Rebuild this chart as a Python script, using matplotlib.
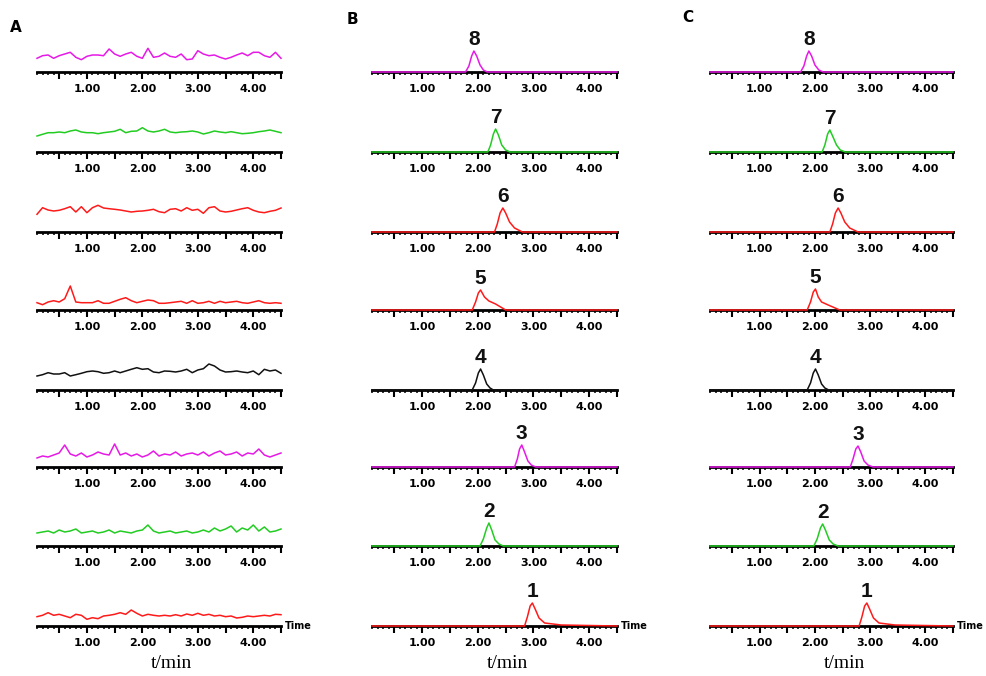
import matplotlib
matplotlib.use("Agg")
import matplotlib.pyplot as plt
from matplotlib.ticker import MultipleLocator, FuncFormatter

# colours of the 8 traces, top to bottom
trace_colors = ['#e619e6', '#22cc22', '#ff1a1a', '#ff1a1a',
                '#111111', '#e619e6', '#22cc22', '#ff1a1a']
compound_ids = [8, 7, 6, 5, 4, 3, 2, 1]

# panel A: blank matrix, signal height above baseline (read every 0.1 min, 0.1 to 4.5)
a_times = [round(0.1 * k, 1) for k in range(1, 46)]
a_noise = [
    [13.7, 16.3, 17, 13.7, 16.3, 18, 19.7, 14.7, 12.3, 15.7, 17, 17, 16.3, 23, 18,
     15.7, 18, 19.7, 15.7, 13.7, 23.7, 14.7, 15.7, 19, 15.7, 14.7, 18, 12.3, 13, 21.3,
     18, 16.3, 17, 14.7, 13, 14.7, 17, 19, 16.3, 19.7, 19.7, 16.3, 14.7, 19.7, 13.7],
    [16, 17.7, 19.3, 19.3, 20, 19.3, 21, 22, 20, 19.3, 19.3, 18.3, 19.3, 20, 20.7,
     22.7, 19.3, 20.7, 21, 24.3, 21, 20, 21, 22.7, 20, 19.3, 20, 20.3, 21, 20,
     18, 19.3, 21, 20, 19.3, 20.3, 19.3, 18.3, 18.7, 19.3, 20.3, 21, 22, 20.7, 19.3],
    [17.7, 24.3, 22, 21, 21.7, 23.3, 25.3, 20, 25.3, 19.3, 24.3, 26.7, 24, 23.3, 22.7,
     22, 21, 20, 20.7, 21, 21.7, 22.7, 20.3, 19.3, 22.7, 23.3, 21, 24.3, 21.7, 22.7,
     18.7, 24.3, 25.3, 21, 20, 20.7, 22, 23.3, 24.3, 21.7, 20, 19.3, 20.7, 21.7, 24],
    [7.3, 5.3, 8, 9.3, 8, 11.3, 24, 8, 7.3, 7.3, 7.3, 9.3, 6.7, 6.7, 8.7,
     10.7, 12.3, 9.3, 7.3, 8.7, 10, 9.3, 6.7, 6.7, 7.3, 8, 8.7, 6.7, 9.3, 6.7,
     7.3, 8.7, 6.7, 8.7, 7.3, 8, 8.7, 7.3, 6.7, 8, 9.3, 7.3, 6.7, 7.3, 6.7],
    [14, 15.3, 17.3, 16, 16, 17.3, 14, 15.3, 16.7, 18.3, 19, 18.3, 16.7, 17.3, 19,
     17.3, 19, 20.7, 22.3, 20.7, 21.3, 18, 17.3, 19, 18.7, 18, 19, 20.7, 17.3, 20,
     21.3, 26, 24, 20, 18, 18.3, 19, 18, 17.3, 19, 15.3, 20.7, 19, 20, 16.7],
    [9, 11, 10, 12, 14, 22, 13, 11, 14, 10, 12, 15, 13, 12, 23, 12, 14, 11, 13, 10,
     12, 16, 11, 13, 12, 15, 11, 13, 14, 12, 15, 11, 14, 16, 12, 13, 15, 11, 14, 13,
     18, 12, 10, 12, 14],
    [13, 14, 15, 13, 16, 14, 15, 17, 13, 14, 15, 13, 14, 16, 13, 15, 14, 13, 15, 16,
     21, 15, 13, 14, 15, 13, 14, 15, 13, 14, 16, 14, 18, 15, 17, 20, 14, 18, 16, 21,
     15, 19, 14, 15, 17],
    [9.3, 10.7, 13.3, 10.7, 11.7, 10, 8.3, 11.7, 10.7, 6.7, 8.3, 7.3, 10, 10.7, 11.7,
     13.3, 11.7, 16, 12.7, 10, 11.7, 10.7, 10, 10.7, 10, 11.3, 10, 12, 10.7, 12.7,
     10.7, 11.7, 10, 10.7, 9.3, 10, 8, 8.7, 10, 9.3, 10, 10.7, 10, 11.7, 11.3],
]

# panels B and C: spiked samples, one peak per trace (time, height above baseline)
b_times = [
    [0.1, 1.78, 1.84, 1.89, 1.93, 1.98, 2.04, 2.10, 2.17, 4.5],
    [0.1, 2.18, 2.23, 2.28, 2.32, 2.37, 2.43, 2.50, 2.58, 4.5],
    [0.1, 2.30, 2.35, 2.40, 2.45, 2.50, 2.57, 2.66, 2.80, 4.5],
    [0.1, 1.90, 1.96, 2.01, 2.05, 2.12, 2.20, 2.32, 2.50, 4.5],
    [0.1, 1.90, 1.96, 2.01, 2.05, 2.10, 2.16, 2.22, 2.28, 4.5],
    [0.1, 2.66, 2.71, 2.75, 2.79, 2.84, 2.90, 2.96, 3.04, 4.5],
    [0.1, 2.04, 2.10, 2.16, 2.20, 2.25, 2.31, 2.38, 2.46, 4.5],
    [0.1, 2.84, 2.89, 2.94, 2.98, 3.03, 3.10, 3.20, 3.50, 4.5],
]
b_heights = [
    [0, 0, 6, 16, 21, 16, 7, 2, 0, 0],
    [0, 0, 7, 18, 23, 17, 7, 2, 0, 0],
    [0, 0, 8, 19, 24, 19, 10, 4, 0, 0],
    [0, 0, 8, 17, 20, 13, 9, 6, 0, 0],
    [0, 0, 7, 17, 21, 15, 6, 2, 0, 0],
    [0, 0, 8, 18, 22, 15, 6, 2, 0, 0],
    [0, 0, 7, 18, 23, 16, 6, 2, 0, 0],
    [0, 0, 9, 20, 23, 17, 8, 3, 1, 0],
]
c_times = [
    [0.1, 1.74, 1.80, 1.85, 1.89, 1.94, 2.00, 2.07, 2.15, 4.5],
    [0.1, 2.13, 2.18, 2.23, 2.27, 2.32, 2.39, 2.46, 2.55, 4.5],
    [0.1, 2.27, 2.32, 2.37, 2.42, 2.47, 2.54, 2.63, 2.78, 4.5],
    [0.1, 1.86, 1.92, 1.97, 2.01, 2.06, 2.12, 2.24, 2.45, 4.5],
    [0.1, 1.86, 1.92, 1.97, 2.01, 2.06, 2.12, 2.18, 2.25, 4.5],
    [0.1, 2.64, 2.69, 2.74, 2.78, 2.83, 2.89, 2.96, 3.05, 4.5],
    [0.1, 1.98, 2.04, 2.10, 2.14, 2.19, 2.26, 2.33, 2.42, 4.5],
    [0.1, 2.80, 2.85, 2.90, 2.94, 2.99, 3.06, 3.16, 3.45, 4.5],
]
c_heights = [
    [0, 0, 6, 16, 21, 16, 7, 2, 0, 0],
    [0, 0, 7, 18, 22, 16, 7, 2, 0, 0],
    [0, 0, 8, 19, 24, 19, 10, 4, 0, 0],
    [0, 0, 8, 18, 21, 13, 8, 5, 0, 0],
    [0, 0, 7, 17, 21, 15, 6, 2, 0, 0],
    [0, 0, 8, 18, 21, 15, 6, 2, 0, 0],
    [0, 0, 7, 18, 22, 16, 6, 2, 0, 0],
    [0, 0, 9, 20, 23, 17, 8, 3, 1, 0],
]

W, H = 987, 676
baselines = [72, 152, 232, 310, 390, 467, 546, 626]
columns = [(37, 281), (372, 617), (710, 953)]
panel_letters = [('A', 16, 27), ('B', 352, 20), ('C', 688, 18)]

fig = plt.figure(figsize=(W / 100, H / 100), dpi=100)


def tick_label(v, pos):
    if abs(v - round(v)) < 1e-6 and round(v) >= 1:
        return f'{v:.2f}'
    return ''


def make_axes(x0, x1, base):
    ax = fig.add_axes([x0 / W, 1 - base / H, (x1 - x0) / W, 40 / H])
    ax.set_xlim(0.1, 4.5)
    ax.set_ylim(0, 40)
    for s in ['top', 'left', 'right']:
        ax.spines[s].set_visible(False)
    ax.spines['bottom'].set_linewidth(2.0)
    ax.spines['bottom'].set_zorder(1)
    ax.set_yticks([])
    ax.xaxis.set_major_locator(MultipleLocator(0.5))
    ax.xaxis.set_minor_locator(MultipleLocator(0.1))
    ax.xaxis.set_major_formatter(FuncFormatter(tick_label))
    ax.tick_params(axis='x', which='major', length=5, width=1.5, pad=3.5,
                   labelsize=8, direction='out')
    ax.tick_params(axis='x', which='minor', length=2.5, width=1.1, direction='out')
    for lab in ax.get_xticklabels():
        lab.set_fontweight('heavy')
    ax.patch.set_visible(False)
    return ax


for col, (x0, x1) in enumerate(columns):
    for row, base in enumerate(baselines):
        ax = make_axes(x0, x1, base)
        color = trace_colors[row]
        if col == 0:
            ax.plot(a_times, a_noise[row], color=color, lw=1.1, zorder=3, clip_on=False)
        else:
            ts = b_times[row] if col == 1 else c_times[row]
            hs = b_heights[row] if col == 1 else c_heights[row]
            ax.plot(ts, hs, color=color, lw=1.1, zorder=3, clip_on=False)
            k = hs.index(max(hs))
            ax.text(ts[k], hs[k] + 6, str(compound_ids[row]), ha='center',
                    va='baseline', fontsize=15, fontweight='bold',
                    family='Liberation Sans', color='#111111')
        if row == len(baselines) - 1:
            ax.text(x1 / W + 0.004, 1 - base / H, 'Time', transform=fig.transFigure,
                    ha='left', va='center', fontsize=7, fontweight='heavy')
            fig.text((x0 + x1) / 2 / W + 0.013, 1 - 664 / H, 't/min', ha='center',
                     va='center', fontsize=14, family='Liberation Serif')

for letter, x, y in panel_letters:
    fig.text(x / W, 1 - y / H, letter, ha='center', va='center', fontsize=11,
             fontweight='heavy')

fig.savefig('out.png', dpi=100)
